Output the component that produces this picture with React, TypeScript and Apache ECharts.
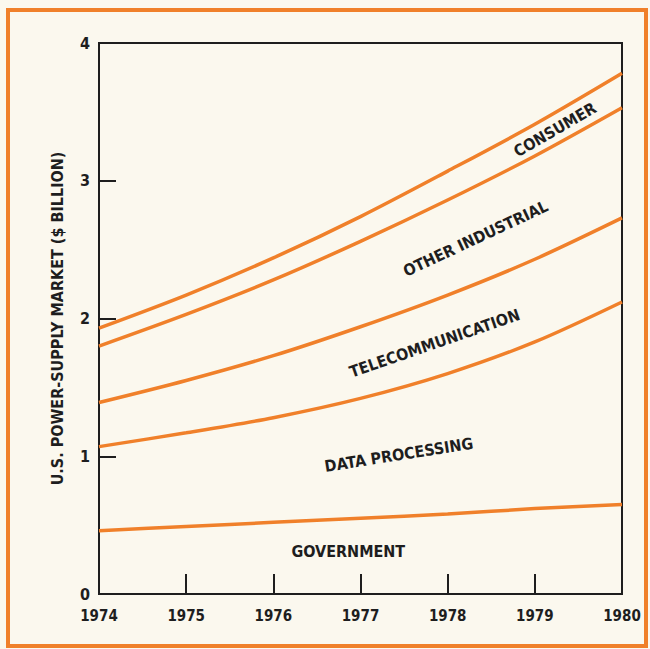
import React, { useEffect, useRef } from "react";
import * as echarts from "echarts";

const years = [1974, 1975, 1976, 1977, 1978, 1979, 1980];
const consumer = [1.93, 2.17, 2.44, 2.74, 3.07, 3.41, 3.78];
const otherIndustrial = [1.8, 2.03, 2.28, 2.56, 2.86, 3.18, 3.53];
const telecommunication = [1.39, 1.55, 1.73, 1.94, 2.17, 2.43, 2.73];
const dataProcessing = [1.07, 1.17, 1.28, 1.42, 1.6, 1.83, 2.12];
const government = [0.46, 0.49, 0.52, 0.55, 0.58, 0.62, 0.65];

const yTicks = [0, 1, 2, 3, 4];

// label annotations: text, anchor year, anchor value, rotation in degrees
const labelTexts = ["CONSUMER", "OTHER INDUSTRIAL", "TELECOMMUNICATION", "DATA PROCESSING", "GOVERNMENT"];
const labelYears = [1979.23, 1978.32, 1977.85, 1977.44, 1976.86];
const labelValues = [3.37, 2.58, 1.82, 1.01, 0.31];
const labelAngles = [30, 25, 19, 9, 0];

const ORANGE = "#f0802a";
const INK = "#1e1e1e";
const BG = "#fbf8ee";
const FONT = "'DejaVu Sans Condensed', 'DejaVu Sans', sans-serif";

export default function App() {
  const ref = useRef<HTMLDivElement>(null);
  useEffect(() => {
    if (!ref.current) return;
    const chart = echarts.init(ref.current, null, { renderer: "svg" });
    const seriesData = [consumer, otherIndustrial, telecommunication, dataProcessing, government];
    chart.setOption({
      animation: false,
      backgroundColor: BG,
      grid: {
        left: 99,
        right: 28,
        top: 43,
        bottom: 55,
        show: true,
        borderColor: INK,
        borderWidth: 2,
        backgroundColor: "transparent",
      },
      xAxis: {
        type: "value",
        min: 1974,
        max: 1980,
        interval: 1,
        axisLine: { show: true, onZero: false, lineStyle: { color: INK, width: 2 } },
        axisTick: { show: true, inside: true, length: 20, lineStyle: { color: INK, width: 2 } },
        splitLine: { show: false },
        axisLabel: {
          color: INK,
          fontFamily: FONT,
          fontWeight: "bold",
          fontSize: 15,
          margin: 14,
          formatter: (v: number) => String(v),
        },
      },
      yAxis: {
        type: "value",
        min: yTicks[0],
        max: yTicks[yTicks.length - 1],
        interval: 1,
        name: "U.S. POWER-SUPPLY MARKET ($ BILLION)",
        nameLocation: "middle",
        nameGap: 34,
        nameTextStyle: { color: INK, fontFamily: FONT, fontWeight: "bold", fontSize: 16 },
        axisLine: { show: true, lineStyle: { color: INK, width: 2 } },
        axisTick: { show: true, inside: true, length: 17, lineStyle: { color: INK, width: 2 } },
        splitLine: { show: false },
        axisLabel: {
          color: INK,
          fontFamily: FONT,
          fontWeight: "bold",
          fontSize: 16,
          margin: 9,
        },
      },
      series: seriesData.map((vals) => ({
        type: "line",
        smooth: 0.3,
        showSymbol: false,
        data: years.map((y, i) => [y, vals[i]]),
        lineStyle: { color: ORANGE, width: 3.5 },
        itemStyle: { color: ORANGE },
      })),
    });

    const labels = labelTexts.map((t, i) => {
      const p = chart.convertToPixel({ gridIndex: 0 }, [labelYears[i], labelValues[i]]) as number[];
      return {
        type: "text",
        x: p[0],
        y: p[1],
        rotation: (labelAngles[i] * Math.PI) / 180,
        style: {
          text: t,
          fill: INK,
          font: `bold 16px ${FONT}`,
          align: "center",
          verticalAlign: "middle",
        },
      };
    });

    chart.setOption({
      graphic: [
        {
          type: "rect",
          shape: { x: 8, y: 10, width: 638, height: 636 },
          style: { fill: "transparent", stroke: ORANGE, lineWidth: 4 },
          silent: true,
        },
        ...labels,
      ],
    });

    return () => chart.dispose();
  }, []);

  return (
    <div
      ref={ref}
      style={{ position: "fixed", left: 0, top: 0, width: 650, height: 649, background: BG }}
    />
  );
}
